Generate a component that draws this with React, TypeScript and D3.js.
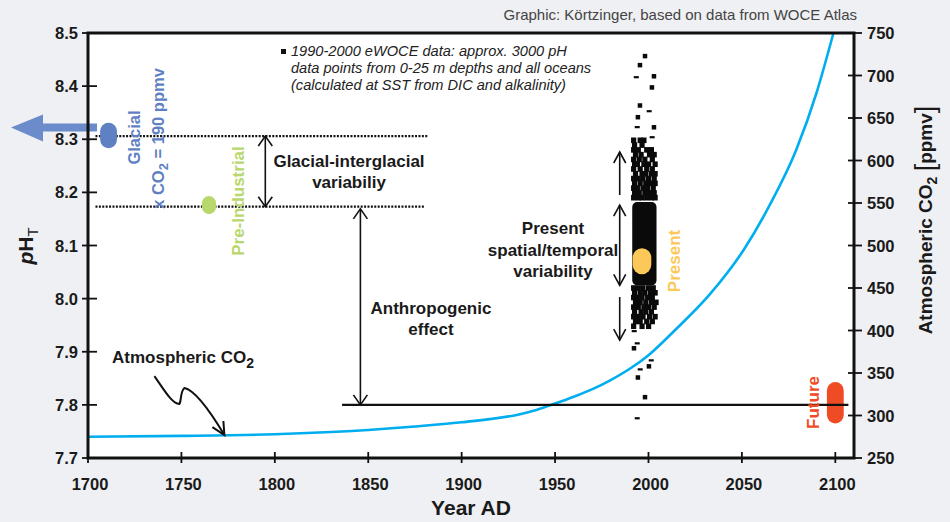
import React, { useEffect, useRef } from "react";
import * as d3 from "d3";

const W = 950, H = 522;
const FONT = "'Liberation Sans', Arial, Helvetica, sans-serif";

// axes
const yearTicks = [1700, 1750, 1800, 1850, 1900, 1950, 2000, 2050, 2100];
const phTicks = [7.7, 7.8, 7.9, 8.0, 8.1, 8.2, 8.3, 8.4, 8.5];
const co2Ticks = [250, 300, 350, 400, 450, 500, 550, 600, 650, 700, 750];

// atmospheric CO2 (right axis)
const co2Years = [1700, 1750, 1800, 1850, 1875, 1900, 1930, 1940, 1950, 1960, 1970, 1980, 1990, 2000, 2014, 2033, 2051, 2065, 2079, 2090, 2099];
const co2Ppmv = [275, 276, 278, 283, 287, 292, 301, 306.5, 314, 322, 331, 342, 355, 371, 400, 443, 495, 548, 612, 680, 750];

// eWOCE surface pH, isolated points (shape: 1 = square, 0 = dash)
const isoYears = [1998, 1995.3, 1993.2, 2002.8, 2001.7, 1995.3, 2000.1, 1994.2, 1993.7, 2002.8, 2001.7,
  1992.1, 1993.7, 1992.1, 2001.2, 2000.1, 1995.3, 1994.2, 1998, 1993.7];
const isoPh = [8.457, 8.44, 8.417, 8.419, 8.398, 8.364, 8.353, 8.342, 8.323, 8.323, 8.304,
  7.939, 7.916, 7.907, 7.884, 7.873, 7.867, 7.852, 7.815, 7.775];
const isoShape = [1, 1, 0, 1, 1, 1, 0, 1, 0, 1, 0, 0, 0, 1, 0, 1, 0, 1, 1, 0];

// eWOCE pH, fringe rows above and below the dense core
const fringePh = [8.298, 8.289, 8.28, 8.271, 8.262, 8.253, 8.244, 8.235, 8.226, 8.217, 8.208, 8.199, 8.19,
  8.02, 8.011, 8.002, 7.993, 7.984, 7.975, 7.966, 7.957, 7.948];
const fringeYears = [
  [1992, 1995.5, 1997.5], [1992.5, 1996.5], [1992, 1994.5, 1999, 2001.5], [1993, 1996, 2000.5, 2003],
  [1992, 1995, 1998, 2002], [1992.5, 1994, 1997.5, 2000, 2003.5], [1992, 1995.5, 1999, 2002],
  [1993, 1996.5, 1998.5, 2001.5, 2003.5], [1992, 1994.5, 1997, 2000, 2003], [1992.5, 1995.5, 1998.5, 2001, 2003.5],
  [1992, 1994, 1997, 1999.5, 2002.5], [1992.5, 1995, 1998, 2000.5, 2003], [1992, 1994.5, 1996.5, 1999, 2001.5, 2003.5],
  [1992, 1994.5, 1997, 2000, 2002.5], [1992.5, 1995.5, 1998, 2001, 2003.5], [1992, 1994, 1996.5, 1999.5, 2002],
  [1993, 1995.5, 1998.5, 2001.5, 2004], [1992, 1994.5, 1997.5, 2000, 2003], [1992.5, 1996, 1998.5, 2001.5],
  [1992, 1994.5, 1997, 2000.5, 2003.5], [1993, 1995.5, 1999, 2002], [1992, 1996.5, 2000]];

// dense core of the ~3000 points
const coreYears = [1991.3, 2004.3];
const corePh = [8.025, 8.182];

// epoch markers
const markerNames = ["Glacial", "Pre-Industrial", "Present", "Future"];
const markerYears = [[1706.5, 1715.5], [1761, 1768.5], [1991.5, 2001.5], [2095.5, 2104.5]];
const markerPh = [[8.283, 8.331], [8.159, 8.193], [8.046, 8.095], [7.765, 7.843]];
const markerColors = ["#5f81c4", "#b8d76c", "#fcc85a", "#ef4b24"];

// reference levels
const glacialPh = 8.306, preIndustrialPh = 8.173, todayRefPh = 7.8;

const App = () => {
  const ref = useRef(null);

  useEffect(() => {
    drawChart(ref.current);
  }, []);

  return (
    <svg ref={ref} width={W} height={H} style={{ position: "absolute", left: 0, top: 0 }} />
  );
};

function drawChart(el) {
  const svg = d3.select(el);
  svg.selectAll("*").remove();
  svg.attr("font-family", FONT);

  const x = d3.scaleLinear().domain([1700, 2110]).range([88, 854]);
  const y = d3.scaleLinear().domain([7.7, 8.5]).range([458, 33]);
  const yc = d3.scaleLinear().domain([250, 750]).range([458, 33]);
  const [x0, x1] = x.range(), [yb, yt] = y.range();

  svg.append("rect").attr("width", W).attr("height", H).attr("fill", "#eff0f3");
  svg.append("rect").attr("x", x0).attr("y", yt).attr("width", x1 - x0).attr("height", yb - yt).attr("fill", "#fff");

  svg.append("text").attr("x", 857).attr("y", 20).attr("text-anchor", "end")
    .attr("font-size", 15).attr("fill", "#444")
    .text("Graphic: Körtzinger, based on data from WOCE Atlas");

  // reference lines
  const dotted = svg.append("g").attr("stroke", "#111").attr("stroke-width", 2.2).attr("stroke-dasharray", "2,1.4");
  dotted.append("line").attr("x1", x(1704)).attr("x2", x(1882)).attr("y1", y(glacialPh)).attr("y2", y(glacialPh));
  dotted.append("line").attr("x1", x(1704)).attr("x2", x(1880)).attr("y1", y(preIndustrialPh)).attr("y2", y(preIndustrialPh));

  // CO2 curve
  const line = d3.line().x(d => x(d[0])).y(d => yc(d[1])).curve(d3.curveMonotoneX);
  svg.append("path").datum(co2Years.map((yr, i) => [yr, co2Ppmv[i]]))
    .attr("d", line).attr("fill", "none").attr("stroke", "#00aeef").attr("stroke-width", 2.6);

  // scatter
  const sc = svg.append("g").attr("fill", "#0a0a0a");
  sc.append("rect")
    .attr("x", x(coreYears[0])).attr("width", x(coreYears[1]) - x(coreYears[0]))
    .attr("y", y(corePh[1])).attr("height", y(corePh[0]) - y(corePh[1])).attr("rx", 5);
  fringePh.forEach((ph, i) => {
    fringeYears[i].forEach(yr => {
      sc.append("rect").attr("x", x(yr) - 2.5).attr("y", y(ph) - 2.8).attr("width", 5.2).attr("height", 5.6);
    });
  });
  isoPh.forEach((ph, i) => {
    const sq = isoShape[i] === 1;
    sc.append("rect").attr("x", x(isoYears[i]) - 2).attr("y", y(ph) - (sq ? 2 : 1))
      .attr("width", sq ? 4.5 : 5).attr("height", sq ? 4.5 : 2.2);
  });

  // epoch markers
  markerNames.forEach((n, i) => {
    const [a, b] = markerYears[i], [lo, hi] = markerPh[i];
    const w = x(b) - x(a);
    svg.append("rect").attr("x", x(a)).attr("y", y(hi)).attr("width", w).attr("height", y(lo) - y(hi))
      .attr("rx", w / 2).attr("ry", Math.min(w / 2, (y(lo) - y(hi)) / 2)).attr("fill", markerColors[i]);
  });

  // big glacial arrow pointing left
  const gy = y((markerPh[0][0] + markerPh[0][1]) / 2) - 8;
  svg.append("path")
    .attr("d", `M11,${gy} L43,${gy - 13} L43,${gy - 4} L97,${gy - 4} L97,${gy + 4} L43,${gy + 4} L43,${gy + 14} Z`)
    .attr("fill", "#6b8bcb");

  // present-day reference line
  svg.append("line").attr("x1", x(1836)).attr("x2", x(2107)).attr("y1", y(todayRefPh)).attr("y2", y(todayRefPh))
    .attr("stroke", "#111").attr("stroke-width", 2.4);

  // arrows
  const arrows = svg.append("g").attr("stroke", "#111").attr("stroke-width", 1.6).attr("fill", "none");
  function arrow(yr, phTop, phBot, up, down, hw = 7, hl = 10) {
    const ax = x(yr), ya = y(phTop), yz = y(phBot);
    arrows.append("line").attr("x1", ax).attr("x2", ax).attr("y1", ya).attr("y2", yz);
    if (up) arrows.append("path").attr("d", `M${ax - hw},${ya + hl} L${ax},${ya} L${ax + hw},${ya + hl}`);
    if (down) arrows.append("path").attr("d", `M${ax - hw},${yz - hl} L${ax},${yz} L${ax + hw},${yz - hl}`);
  }
  arrow(1794.9, glacialPh, preIndustrialPh, true, true);
  arrow(1845.8, preIndustrialPh - 0.004, todayRefPh, true, true);
  arrow(1984.6, 8.276, 8.195, true, false, 6, 11);
  arrow(1984.6, 8.176, 8.025, true, true, 6, 11);
  arrow(1984.6, 8.003, 7.922, false, true, 6, 11);

  // squiggle arrow towards CO2 curve
  const tx = x(1773), ty = yc(277);
  arrows.append("path").attr("stroke-width", 2)
    .attr("d", `M${tx - 70},${ty - 59} C${tx - 60},${ty - 45} ${tx - 53},${ty - 32} ${tx - 45},${ty - 31}
      C${tx - 43},${ty - 34} ${tx - 44},${ty - 44} ${tx - 40},${ty - 47}
      C${tx - 30},${ty - 45} ${tx - 15},${ty - 25} ${tx},${ty}`);
  arrows.append("path").attr("stroke-width", 2)
    .attr("d", `M${tx - 12},${ty - 8} L${tx},${ty} L${tx - 1},${ty - 14}`);

  // axes frame
  const axisG = svg.append("g").attr("stroke", "#111");
  axisG.append("rect").attr("x", x0).attr("y", yt).attr("width", x1 - x0).attr("height", yb - yt)
    .attr("fill", "none").attr("stroke-width", 3);
  yearTicks.forEach(t => {
    axisG.append("line").attr("x1", x(t)).attr("x2", x(t)).attr("y1", yb - 6).attr("y2", yb + 5).attr("stroke-width", 1.8);
  });
  phTicks.forEach(t => {
    axisG.append("line").attr("x1", x0 - 6).attr("x2", x0 + 9).attr("y1", y(t)).attr("y2", y(t)).attr("stroke-width", 1.8);
  });
  co2Ticks.forEach(t => {
    axisG.append("line").attr("x1", x1 - 6).attr("x2", x1 + 8).attr("y1", yc(t)).attr("y2", yc(t)).attr("stroke-width", 1.8);
  });

  const lab = svg.append("g").attr("font-weight", "bold").attr("font-size", 16.5).attr("fill", "#1a1a1a");
  yearTicks.forEach(t => lab.append("text").attr("x", x(t) + 2).attr("y", 490).attr("text-anchor", "middle").text(t));
  phTicks.forEach(t => lab.append("text").attr("x", 78).attr("y", y(t) + 6).attr("text-anchor", "end").text(d3.format(".1f")(t)));
  co2Ticks.forEach(t => lab.append("text").attr("x", 867).attr("y", yc(t) + 6).text(t));

  // axis titles
  svg.append("text").attr("x", 471).attr("y", 515).attr("text-anchor", "middle")
    .attr("font-size", 21).attr("font-weight", "bold").attr("fill", "#1a1a1a").text("Year AD");

  const pl = svg.append("text").attr("transform", "translate(33,246) rotate(-90)").attr("text-anchor", "middle")
    .attr("font-size", 21).attr("font-weight", "bold").attr("fill", "#1a1a1a");
  pl.append("tspan").attr("font-style", "italic").text("p");
  pl.append("tspan").text("H");
  pl.append("tspan").attr("font-size", 15).attr("font-weight", "normal").attr("dy", 5).text("T");

  const rl = svg.append("text").attr("transform", "translate(932,220) rotate(-90)").attr("text-anchor", "middle")
    .attr("font-size", 19).attr("font-weight", "bold").attr("fill", "#1a1a1a");
  rl.append("tspan").text("Atmospheric CO");
  rl.append("tspan").attr("font-size", 14).attr("dy", 5).text("2");
  rl.append("tspan").attr("dy", -5).text(" ");
  rl.append("tspan").attr("font-weight", "normal").attr("font-size", 27).attr("dy", 2).text("[");
  rl.append("tspan").attr("dy", -2).text("ppmv");
  rl.append("tspan").attr("font-weight", "normal").attr("font-size", 27).attr("dy", 2).text("]");

  // data note
  svg.append("rect").attr("x", 281).attr("y", 49).attr("width", 5).attr("height", 5).attr("fill", "#111");
  const note = svg.append("text").attr("font-size", 14.6).attr("font-style", "italic").attr("fill", "#222");
  ["1990-2000 eWOCE data: approx. 3000 pH", "data points from 0-25 m depths and all oceans",
    "(calculated at SST from DIC and alkalinity)"].forEach((s, i) => {
    note.append("tspan").attr("x", 291).attr("y", 56 + i * 17).text(s);
  });

  // bold annotations
  const ann = svg.append("g").attr("font-size", 17).attr("font-weight", "bold").attr("fill", "#1a1a1a").attr("text-anchor", "middle");
  function multi(cx, by, lines, lh) {
    lines.forEach((s, i) => ann.append("text").attr("x", cx).attr("y", by + i * lh).text(s));
  }
  multi(349, 167, ["Glacial-interglacial", "variabiliy"], 20.5);
  multi(431, 314, ["Anthropogenic", "effect"], 21);
  multi(553, 234, ["Present", "spatial/temporal", "variability"], 21.5);

  const co2t = svg.append("text").attr("x", 112).attr("y", 363).attr("font-size", 17).attr("font-weight", "bold").attr("fill", "#1a1a1a");
  co2t.append("tspan").text("Atmospheric CO");
  co2t.append("tspan").attr("dy", 5).attr("font-size", 14).text("2");

  // rotated epoch labels
  const rot = (bx, cy, col, size = 17) => svg.append("text")
    .attr("transform", `translate(${bx},${cy}) rotate(-90)`).attr("text-anchor", "middle")
    .attr("font-size", size).attr("font-weight", "bold").attr("fill", col);
  rot(140, 137.5, markerColors[0], 16.5).text("Glacial");
  const xc = rot(164, 138.5, markerColors[0], 16.5);
  xc.append("tspan").text("x CO");
  xc.append("tspan").attr("dy", 4).attr("font-size", 13).text("2");
  xc.append("tspan").attr("dy", -4).text(" = 190 ppmv");
  rot(244, 201, markerColors[1]).text("Pre-Industrial");
  rot(680, 261, markerColors[2]).text("Present");
  rot(819, 402.5, markerColors[3]).text("Future");
}

export default App;
